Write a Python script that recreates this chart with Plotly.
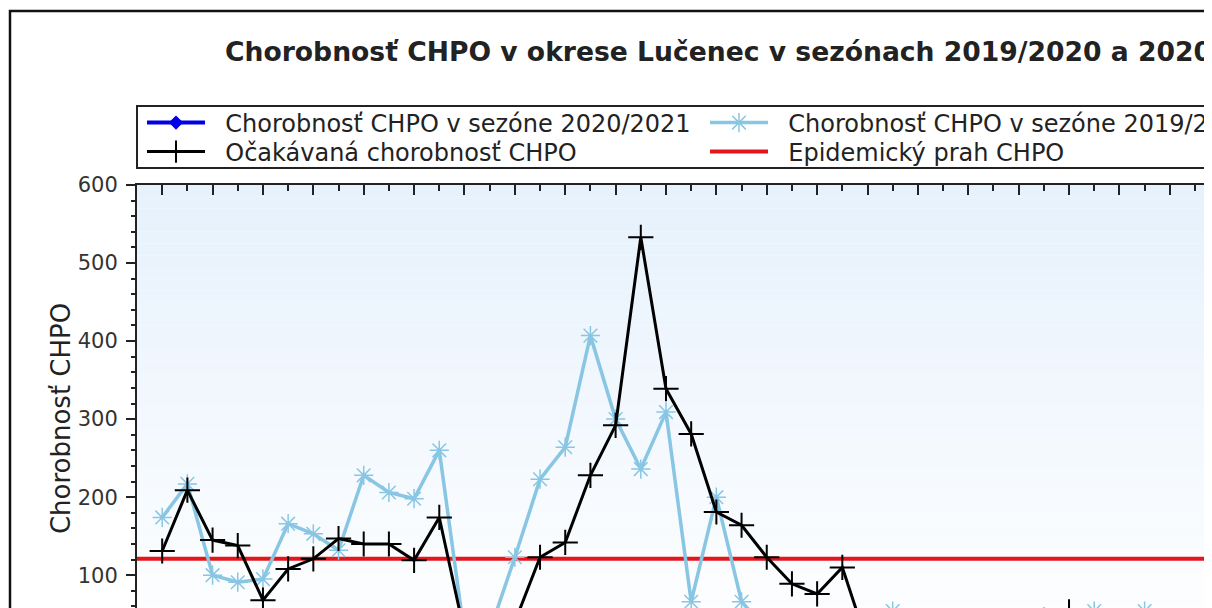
import plotly.graph_objects as go

# poradie tyzdna v sezone (1 = prvy tyzden sezony)
tyzden = list(range(1, 43))

# Ocakavana chorobnost CHPO
ocakavana = [131, 209, 145, 138, 68, 108, 121, 147, 140, 140,
             119, 174, 26, 20, 40, 123, 142, 228, 292, 533,
             339, 281, 181, 164, 123, 89, 76, 110, 12, 18,
             22, 28, 34, 38, 40, 42, 53, 40, 36, 30,
             26, 22]

# Chorobnost CHPO v sezone 2019/2020
sezona_1920 = [174, 217, 100, 91, 95, 166, 153, 132, 228, 206,
               198, 260, 24, 28, 123, 223, 264, 407, 300, 236,
               309, 66, 200, 66, 30, 28, 35, 40, 45, 54,
               40, 32, 30, 34, 38, 42, 46, 54, 45, 54,
               40, 35]

# Chorobnost CHPO v sezone 2020/2021 (pod zobrazenym rozsahom)
sezona_2021 = [40, 44, 46, 42, 38, 35, 30, 28, 25, 22,
               20, 18, 15, 12, 14, 16, 18, 20, 22, 24,
               26, 25, 24, 22, 20, 21, 23, 25, 24, 22,
               20, 18, 17, 16, 15, 14, 13, 12, 12, 11,
               10, 10]

# Epidemicky prah CHPO
prah_tyzden = list(range(0, 44))
prah = [121] * len(prah_tyzden)

FONT = "DejaVu Sans"
GAP = "\u00a0\u00a0"

fig = go.Figure()

fig.add_trace(go.Scatter(x=prah_tyzden, y=prah, mode='lines',
                         name=GAP + 'Epidemický prah CHPO',
                         line=dict(color='#E3161B', width=4),
                         legend='legend4'))

fig.add_trace(go.Scatter(x=tyzden, y=sezona_2021, mode='lines+markers',
                         name=GAP + 'Chorobnosť CHPO v sezóne 2020/2021',
                         line=dict(color='#0000E6', width=4),
                         marker=dict(symbol='diamond', size=11, color='#0000E6'),
                         legend='legend'))

fig.add_trace(go.Scatter(x=tyzden, y=sezona_1920, mode='lines+markers',
                         name=GAP + 'Chorobnosť CHPO v sezóne 2019/2020',
                         line=dict(color='#88C6E3', width=3.5),
                         marker=dict(symbol='asterisk-open', size=16,
                                     line=dict(color='#88C6E3', width=1.5)),
                         legend='legend2'))

fig.add_trace(go.Scatter(x=tyzden, y=ocakavana, mode='lines+markers',
                         name=GAP + 'Očakávaná chorobnosť CHPO',
                         line=dict(color='#000000', width=3),
                         marker=dict(symbol='cross-thin-open', size=18,
                                     line=dict(color='#000000', width=2)),
                         legend='legend3'))

# the page body has an 8px margin: figure origin sits at screen (8, 8)
OFF = 8
SW, SH = 1212, 608          # screen size
W, H = SW - OFF, SH - OFF   # figure size
SL, ST = 137, 185           # plot area left/top on screen
pw, ph = SW - SL, SH - ST


def px(sx):
    return (sx - SL) / pw


def py(sy):
    return (SH - sy) / ph


# svetlomodry gradient pozadia
shapes = []
nb = 40
top_c = (230, 241, 252)
for i in range(nb):
    f = (i + 0.5) / nb
    c = tuple(round(255 + (t - 255) * f) for t in top_c)
    shapes.append(dict(type='rect', xref='paper', yref='y', layer='below',
                       x0=0, x1=1, y0=600 * i / nb, y1=600 * (i + 1) / nb,
                       line=dict(width=0), fillcolor='rgb(%d,%d,%d)' % c))

# ramik celeho grafu
shapes.append(dict(type='rect', xref='paper', yref='paper',
                   x0=px(10), x1=px(1400), y0=py(800), y1=py(11),
                   line=dict(color='#111111', width=2.5)))
# ramik legendy
shapes.append(dict(type='rect', xref='paper', yref='paper',
                   x0=px(137), x1=px(1400), y0=py(168), y1=py(106),
                   line=dict(color='#222222', width=2)))

legend_font = dict(family=FONT, size=24, color='#222222')


def leg(sx, sy):
    return dict(x=px(sx), xanchor='left', y=py(sy), yanchor='middle',
                bgcolor='rgba(0,0,0,0)', font=legend_font, itemwidth=58)


fig.update_layout(
    width=W, height=H,
    margin=dict(l=SL - OFF, r=0, t=ST - OFF, b=0, autoexpand=False),
    paper_bgcolor='white',
    plot_bgcolor='white',
    font=dict(family=FONT, color='#222222'),
    title=dict(text='<b>Chorobnosť CHPO v okrese Lučenec v sezónach 2019/2020 a 2020/2021</b>',
               font=dict(family=FONT, size=26.6, color='#222222'),
               xref='container', yref='container', x=(225 - OFF) / W, xanchor='left',
               y=1 - (52 - OFF) / H, yanchor='middle'),
    legend=leg(142, 123),
    legend2=leg(705, 123),
    legend3=leg(142, 152),
    legend4=leg(705, 152),
    shapes=shapes,
    showlegend=True,
    xaxis=dict(range=[0, pw / 25.19], side='top', showgrid=False, zeroline=False,
               showline=True, linecolor='#222222', linewidth=2,
               ticks='inside', ticklen=10, tickwidth=2, tickcolor='#222222',
               tick0=1, dtick=2, showticklabels=False,
               minor=dict(ticks='inside', ticklen=6, tickwidth=2,
                          tickcolor='#222222', tick0=0, dtick=1)),
    yaxis=dict(range=[600 - ph / 0.7804, 600], showgrid=False, zeroline=False,
               showline=True, linecolor='#222222', linewidth=2,
               ticks='outside', ticklen=9, tickwidth=2, tickcolor='#222222',
               tick0=0, dtick=100, ticklabelstandoff=4,
               tickfont=dict(family=FONT, size=21, color='#333333'),
               minor=dict(ticks='outside', ticklen=4, tickwidth=2,
                          tickcolor='#222222', tick0=0, dtick=20)),
    yaxis2=dict(overlaying='y', matches='y', side='left', showgrid=False,
                zeroline=False, showline=False, showticklabels=False,
                ticks='inside', ticklen=4, tickwidth=2, tickcolor='#222222',
                tick0=0, dtick=20),
    annotations=[dict(text='Chorobnosť CHPO', textangle=-90,
                      xref='paper', yref='y', x=px(61), y=300,
                      xanchor='center', yanchor='middle', showarrow=False,
                      font=dict(family=FONT, size=26, color='#222222'))],
)

fig.write_html("out.html")
